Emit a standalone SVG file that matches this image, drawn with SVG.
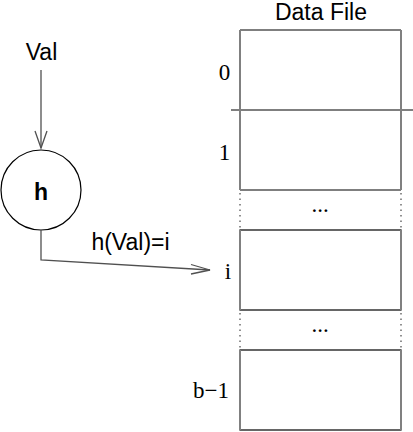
<svg xmlns="http://www.w3.org/2000/svg" width="413" height="432" viewBox="0 0 413 432">
<style>
.sans{font-family:"Liberation Sans",Arial,sans-serif;fill:#000}
.serif{font-family:"Liberation Serif","Times New Roman",serif;fill:#000}
.hl{stroke:#000;stroke-width:1.2;fill:none}
.vl{stroke:#808080;stroke-width:2;fill:none}
.dot{stroke:#909090;stroke-width:2;stroke-dasharray:1.5 4;fill:none}
.conn{stroke:#505050;stroke-width:1.3;fill:none}
</style>
<rect width="413" height="432" fill="#fff"/>
<g id="val">
<text class="sans" x="41.5" y="60" font-size="23" text-anchor="middle">Val</text>
</g>
<g id="h-node">
<circle cx="41" cy="190" r="40" fill="#fff" stroke="#000" stroke-width="1.2"/>
<text class="sans" x="41" y="200" font-size="23" font-weight="bold" text-anchor="middle">h</text>
</g>
<g id="data-file">
<text class="sans" x="321" y="20" font-size="23" text-anchor="middle">Data File</text>
<line class="hl" x1="240" y1="30" x2="401" y2="30"/>
<line class="hl" x1="231" y1="110" x2="413" y2="110"/>
<line class="hl" x1="240" y1="190" x2="401" y2="190"/>
<line class="vl" x1="240" y1="30" x2="240" y2="190"/>
<line class="vl" x1="401" y1="30" x2="401" y2="190"/>
<text class="serif" x="224.5" y="80" font-size="23" text-anchor="middle">0</text>
<text class="serif" x="224.5" y="160" font-size="23" text-anchor="middle">1</text>
<line class="dot" x1="240" y1="193" x2="240" y2="230"/>
<line class="dot" x1="401" y1="193" x2="401" y2="230"/>
<text class="serif" x="320" y="212" font-size="23" text-anchor="middle">...</text>
<rect class="hl" x="240" y="230" width="161" height="80"/>
<line class="vl" x1="240" y1="230" x2="240" y2="310"/>
<line class="vl" x1="401" y1="230" x2="401" y2="310"/>
<text class="serif" x="228" y="279" font-size="23" text-anchor="middle">i</text>
<line class="dot" x1="240" y1="313" x2="240" y2="350"/>
<line class="dot" x1="401" y1="313" x2="401" y2="350"/>
<text class="serif" x="320" y="332" font-size="23" text-anchor="middle">...</text>
<rect class="hl" x="240" y="350" width="161" height="80"/>
<line class="vl" x1="240" y1="350" x2="240" y2="430"/>
<line class="vl" x1="401" y1="350" x2="401" y2="430"/>
<text class="serif" x="211" y="398" font-size="23" text-anchor="middle">b−1</text>
</g>
<g id="connectors">
<line class="conn" x1="41" y1="70" x2="41" y2="148"/>
<polyline class="conn" points="35,131 41,148 47,131"/>
<polyline class="conn" points="41,230 41,260 210,270"/>
<polyline class="conn" points="191,264.5 210,270 191,274"/>
<text class="sans" x="130.5" y="250" font-size="23" text-anchor="middle">h(Val)=i</text>
</g>
</svg>
